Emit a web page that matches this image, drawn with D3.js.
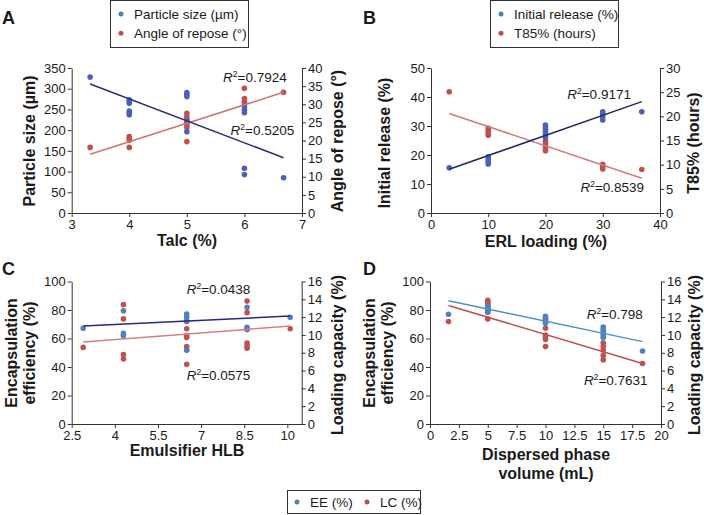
<!DOCTYPE html>
<html><head><meta charset="utf-8">
<script src="https://cdn.jsdelivr.net/npm/d3@7"></script>
<style>
body{margin:0;background:#fff}
svg{display:block}
text{font-family:Arial,"Liberation Sans",sans-serif;fill:#1a1a1a}
</style>
</head><body>
<svg id="c" width="704" height="515"></svg>
<script>
// ---------- Panel A : Talc ----------
const talcTicks = [3, 4, 5, 6, 7];
const sizeTicks = [0, 50, 100, 150, 200, 250, 300, 350];
const angleTicks = [0, 5, 10, 15, 20, 25, 30, 35, 40];
const talcForSize = [3.32, 4, 4, 4, 4, 4, 4, 5, 5, 5, 5, 5, 6, 6, 6, 6, 6, 6.68];
const particleSize = [328, 273, 269, 265, 246, 242, 237, 291, 286, 281, 224, 196, 257, 249, 242, 108, 93, 85];
const talcForAngle = [3.32, 4, 4, 4, 4, 5, 5, 5, 5, 5, 5, 5, 6, 6, 6, 6, 6.68];
const angleOfRepose = [18.1, 21.1, 20.6, 20.1, 18.1, 27.5, 26.6, 25.7, 24.9, 24.3, 23.6, 19.7, 34.4, 31.6, 30.7, 30.1, 33.3];
const talcTrendX = [3.32, 6.68];
const sizeTrendY = [311.4, 133.5];
const angleTrendY = [16.2, 33.3];

// ---------- Panel B : ERL loading ----------
const erlTicks = [0, 10, 20, 30, 40];
const releaseTicks = [0, 10, 20, 30, 40, 50];
const t85Ticks = [0, 5, 10, 15, 20, 25, 30];
const erlForRelease = [3.18, 10, 10, 10, 10, 20, 20, 20, 20, 20, 20, 20, 30, 30, 30, 30, 36.82];
const initialRelease = [15.6, 19.4, 18.5, 17.7, 16.9, 30.3, 29.5, 28.8, 28.0, 27.2, 26.6, 25.9, 34.9, 34.1, 33.2, 32.1, 34.9];
const erlForT85 = [3.18, 10, 10, 10, 10, 20, 20, 20, 20, 20, 30, 30, 30, 36.82];
const t85Hours = [25.1, 17.5, 17.0, 16.6, 16.1, 14.8, 14.3, 13.9, 13.4, 12.9, 10.1, 9.6, 9.1, 9.0];
const erlTrendX = [3.18, 36.82];
const releaseTrendY = [15.1, 38.4];
const t85TrendY = [20.6, 7.2];

// ---------- Panel C : Emulsifier HLB ----------
const hlbTicks = [2.5, 4, 5.5, 7, 8.5, 10];
const eeTicks = [0, 20, 40, 60, 80, 100];
const lcTicks = [0, 2, 4, 6, 8, 10, 12, 14, 16];
const hlbForEE = [2.9, 4.3, 4.3, 4.3, 6.5, 6.5, 6.5, 6.5, 8.6, 8.6, 8.6, 10.1];
const eeHLB = [67.2, 79.5, 63.6, 62.0, 77.2, 74.9, 72.5, 51.9, 81.9, 67.9, 66.7, 74.9];
const hlbForLC = [2.9, 4.3, 4.3, 4.3, 4.3, 6.5, 6.5, 6.5, 6.5, 6.5, 6.5, 6.5, 8.6, 8.6, 8.6, 8.6, 8.6, 8.6, 10.1];
const lcHLB = [8.6, 13.4, 11.8, 7.8, 7.3, 11.5, 10.7, 9.9, 9.7, 8.7, 8.3, 6.7, 13.8, 12.5, 10.6, 9.1, 8.8, 8.5, 10.7];
const hlbTrendX = [2.9, 10.1];
const eeHLBTrendY = [68.8, 75.8];
const lcHLBTrendY = [9.2, 11.0];

// ---------- Panel D : Dispersed phase volume ----------
const volTicks = [0, 2.5, 5, 7.5, 10, 12.5, 15, 17.5, 20];
const volForEE = [1.6, 5, 5, 5, 5, 5, 10, 10, 10, 10, 10, 10, 15, 15, 15, 15, 15, 15, 18.4];
const eeVol = [77.0, 83.0, 81.5, 80.5, 79.5, 78.5, 75.5, 74.5, 73.5, 72.5, 71.5, 70.7, 68.0, 66.5, 65.0, 63.5, 62.0, 60.5, 51.2];
const volForLC = [1.6, 5, 5, 5, 5, 5, 5, 5, 5, 5, 10, 10, 10, 10, 10, 15, 15, 15, 15, 15, 18.4];
const lcVol = [11.5, 13.9, 13.7, 13.6, 13.4, 13.2, 13.0, 12.8, 12.6, 11.8, 10.75, 10.0, 9.7, 9.5, 8.7, 9.1, 8.7, 8.3, 7.7, 7.2, 6.8];
const volTrendX = [1.6, 18.4];
const eeVolTrendY = [86.5, 57.8];
const lcVolTrendY = [13.3, 6.8];

// ---------- drawing ----------
const svg = d3.select('#c');
const RED = '#c0504d', BLUE_DARK = '#4b5fc0', BLUE = '#4f81bd';
const AX = '#333';

function zip(xs, ys) { return xs.map((v, i) => [v, ys[i]]); }

function styleAxis(sel) {
  sel.attr('font-family', null).attr('font-size', null);
  sel.selectAll('path, line').attr('stroke', AX).attr('stroke-width', 1);
  sel.selectAll('text').attr('font-size', 13).attr('fill', '#1a1a1a');
}

function r2Label(g, px, py, val) {
  const t = g.append('text').attr('x', px).attr('y', py).attr('font-size', 13.5);
  t.append('tspan').attr('font-style', 'italic').text('R');
  t.append('tspan').attr('font-size', 8.5).attr('dy', -5).text('2');
  t.append('tspan').attr('dy', 5).text('=' + val);
}

function vTitle(g, x, y, txt) {
  g.append('text').attr('transform', `translate(${x},${y}) rotate(-90)`)
    .attr('text-anchor', 'middle').attr('font-size', 16).attr('font-weight', 'bold').text(txt);
}
function hTitle(g, x, y, txt) {
  g.append('text').attr('x', x).attr('y', y).attr('text-anchor', 'middle')
    .attr('font-size', 16).attr('font-weight', 'bold').text(txt);
}

function drawPanel(p) {
  const g = svg.append('g');
  const x = d3.scaleLinear().domain(p.xDomain).range(p.xRange);
  const yL = d3.scaleLinear().domain(p.yLDomain).range(p.yRange);
  const yR = d3.scaleLinear().domain(p.yRDomain).range(p.yRange);

  g.append('g').attr('transform', `translate(0,${p.yRange[0]})`)
    .call(d3.axisBottom(x).tickValues(p.xTicks).tickFormat(d => String(d)).tickSize(4).tickSizeOuter(0).tickPadding(3))
    .call(styleAxis);
  g.append('g').attr('transform', `translate(${p.xRange[0]},0)`)
    .call(d3.axisLeft(yL).tickValues(p.yLTicks).tickFormat(d => String(d)).tickSize(4).tickSizeOuter(0).tickPadding(2))
    .call(styleAxis);
  g.append('g').attr('transform', `translate(${p.xRange[1]},0)`)
    .call(d3.axisRight(yR).tickValues(p.yRTicks).tickFormat(d => String(d)).tickSize(4).tickSizeOuter(0).tickPadding(2))
    .call(styleAxis);

  // points: right-axis series first, then left
  g.append('g').selectAll('circle').data(p.rPts).join('circle')
    .attr('cx', d => x(d[0])).attr('cy', d => yR(d[1])).attr('r', 2.8).attr('fill', p.rColor);
  g.append('g').selectAll('circle').data(p.lPts).join('circle')
    .attr('cx', d => x(d[0])).attr('cy', d => yL(d[1])).attr('r', 2.8).attr('fill', p.lColor);

  const line = (ys) => d3.line().x(d => x(d[0])).y(d => ys(d[1]));
  g.append('path').datum(p.rTrend).attr('d', line(yR)).attr('fill', 'none')
    .attr('stroke', p.rTrendColor).attr('stroke-width', 1.5);
  g.append('path').datum(p.lTrend).attr('d', line(yL)).attr('fill', 'none')
    .attr('stroke', p.lTrendColor).attr('stroke-width', 1.5);

  p.labels.forEach(l => r2Label(g, x(l[0]), yL(l[1]), l[2]));
  return g;
}

// Panel A
const gA = drawPanel({
  xDomain: [3, 7], xRange: [71.7, 302], xTicks: talcTicks,
  yLDomain: [0, 350], yRDomain: [0, 40], yRange: [213, 68],
  yLTicks: sizeTicks, yRTicks: angleTicks,
  lPts: zip(talcForSize, particleSize), rPts: zip(talcForAngle, angleOfRepose),
  lColor: BLUE_DARK, rColor: RED,
  lTrend: zip(talcTrendX, sizeTrendY), rTrend: zip(talcTrendX, angleTrendY),
  lTrendColor: '#2e2e7c', rTrendColor: '#cf7474',
  labels: [[5.63, 317, '0.7924'], [5.76, 188, '0.5205']]
});
vTitle(gA, 35, 141, 'Particle size (µm)');
vTitle(gA, 343, 141, 'Angle of repose (°)');
hTitle(gA, 187, 246, 'Talc (%)');

// Panel B
const gB = drawPanel({
  xDomain: [0, 40], xRange: [431, 660], xTicks: erlTicks,
  yLDomain: [0, 50], yRDomain: [0, 30], yRange: [213, 68],
  yLTicks: releaseTicks, yRTicks: t85Ticks,
  lPts: zip(erlForRelease, initialRelease), rPts: zip(erlForT85, t85Hours),
  lColor: BLUE_DARK, rColor: RED,
  lTrend: zip(erlTrendX, releaseTrendY), rTrend: zip(erlTrendX, t85TrendY),
  lTrendColor: '#1e2a5c', rTrendColor: '#cf7a7a',
  labels: [[23.8, 39.3, '0.9171'], [26.1, 7.2, '0.8539']]
});
vTitle(gB, 390, 143, 'Initial release (%)');
vTitle(gB, 699, 143, 'T85% (hours)');
hTitle(gB, 546, 247, 'ERL loading (%)');

// Panel C
const gC = drawPanel({
  xDomain: [2.5, 10.5], xRange: [71.7, 301.7], xTicks: hlbTicks,
  yLDomain: [0, 100], yRDomain: [0, 16], yRange: [424, 281.5],
  yLTicks: eeTicks, yRTicks: lcTicks,
  lPts: zip(hlbForEE, eeHLB), rPts: zip(hlbForLC, lcHLB),
  lColor: BLUE, rColor: RED,
  lTrend: zip(hlbTrendX, eeHLBTrendY), rTrend: zip(hlbTrendX, lcHLBTrendY),
  lTrendColor: '#25258c', rTrendColor: '#d08080',
  labels: [[6.5, 91, '0.0438'], [6.5, 30.9, '0.0575']]
});
vTitle(gC, 17, 353, 'Encapsulation');
vTitle(gC, 35, 353, 'efficiency (%)');
vTitle(gC, 343, 355, 'Loading capacity (%)');
hTitle(gC, 187, 456, 'Emulsifier HLB');

// Panel D
const gD = drawPanel({
  xDomain: [0, 20], xRange: [430, 661], xTicks: volTicks,
  yLDomain: [0, 100], yRDomain: [0, 16], yRange: [424, 281.5],
  yLTicks: eeTicks, yRTicks: lcTicks,
  lPts: zip(volForEE, eeVol), rPts: zip(volForLC, lcVol),
  lColor: BLUE, rColor: RED,
  lTrend: zip(volTrendX, eeVolTrendY), rTrend: zip(volTrendX, lcVolTrendY),
  lTrendColor: '#4a90c8', rTrendColor: '#c0504d',
  labels: [[13.57, 73.5, '0.798'], [13.33, 27.4, '0.7631']]
});
vTitle(gD, 375, 353, 'Encapsulation');
vTitle(gD, 393, 353, 'efficiency (%)');
vTitle(gD, 700, 355, 'Loading capacity (%)');
hTitle(gD, 546, 460, 'Dispersed phase');
hTitle(gD, 546, 479, 'volume (mL)');

// Panel letters
[['A', 2, 24], ['B', 363, 24], ['C', 2, 275], ['D', 363, 275]].forEach(([t, x, y]) =>
  svg.append('text').attr('x', x).attr('y', y).attr('font-size', 18).attr('font-weight', 'bold').attr('fill', '#000').text(t));

// Legends
function legend(x0, y0, w, h, items, horizontal) {
  const g = svg.append('g');
  g.append('rect').attr('x', x0).attr('y', y0).attr('width', w).attr('height', h)
    .attr('fill', '#fff').attr('stroke', '#333').attr('stroke-width', 1);
  items.forEach((it, i) => {
    const cx = horizontal ? x0 + 9.5 + i * 70 : x0 + 10.5;
    const cy = horizontal ? y0 + h / 2 : y0 + 13.5 + i * 19.3;
    g.append('circle').attr('cx', cx).attr('cy', cy).attr('r', 2.5).attr('fill', it[1]);
    g.append('text').attr('x', cx + 13).attr('y', cy + 5).attr('font-size', 13.5).text(it[0]);
  });
}
legend(110.5, 0.5, 138, 47, [['Particle size (µm)', BLUE], ['Angle of repose (°)', RED]], false);
legend(490.5, 0.5, 128, 47, [['Initial release (%)', BLUE], ['T85% (hours)', RED]], false);
legend(287.5, 490.5, 133, 23, [['EE (%)', BLUE], ['LC (%)', RED]], true);
</script>
</body></html>
